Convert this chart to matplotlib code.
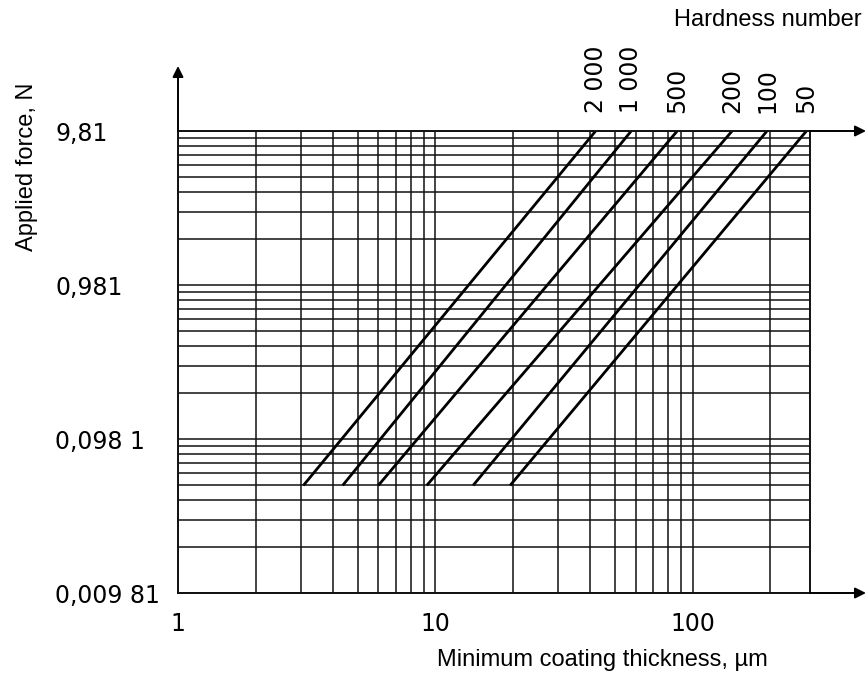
import numpy as np
import matplotlib
matplotlib.use("Agg")
import matplotlib.pyplot as plt

# -- data
hardness = ["2 000", "1 000", "500", "200", "100", "50"]
x_top = [41.9, 57.6, 86.9, 142.0, 194.0, 276.0]      # thickness at F = 9,81 N
x_bottom = [3.07, 4.36, 6.0, 9.25, 14.0, 19.5]       # thickness at F = 0,049 N
f_top = 9.81
f_bottom = 0.049

y_ticks = [0.00981, 0.0981, 0.981, 9.81]
y_ticklabels = ["0,009 81", "0,098 1", "0,981", "9,81"]
x_ticks = [1, 10, 100]
x_ticklabels = ["1", "10", "100"]

ink = "#111111"
num_font = ["DejaVu Sans"]
lbl_font = ["Liberation Sans", "DejaVu Sans"]

fig = plt.figure(figsize=(8.68, 6.75), dpi=100)
ax = fig.add_axes([178 / 868, 1 - 593 / 675, 632 / 868, 462 / 675])

ax.set_xscale("log")
ax.set_yscale("log")
ax.set_xlim(1, 285)
ax.set_ylim(y_ticks[0], y_ticks[-1])

# -- grid
ax.set_xticks(x_ticks)
ax.set_xticklabels(x_ticklabels, fontsize=17, family=num_font)
ax.set_xticks([k * 10 ** n for n in range(3) for k in range(2, 10) if k * 10 ** n < 285], minor=True)
ax.set_yticks(y_ticks)
ax.set_yticklabels(y_ticklabels, fontsize=17, family=num_font)
ax.set_yticks([y_ticks[0] * k * 10 ** n for n in range(3) for k in range(2, 10)], minor=True)
ax.yaxis.set_minor_formatter(matplotlib.ticker.NullFormatter())
ax.xaxis.set_minor_formatter(matplotlib.ticker.NullFormatter())
ax.tick_params(which="both", length=0)
ax.tick_params(axis="x", pad=14)
ax.tick_params(axis="y", pad=88.5)
for t in ax.get_yticklabels():
    t.set_horizontalalignment("left")
ax.grid(True, which="both", color=ink, linewidth=1.1)

for s in ax.spines.values():
    s.set_color(ink)
    s.set_linewidth(1.4)

# -- hardness lines
for lab, xt, xb in zip(hardness, x_top, x_bottom):
    ax.plot([xb, xt], [f_bottom, f_top], color="black", linewidth=2.0, solid_capstyle="butt")
    ax.annotate(lab, xy=(xt, f_top), xytext=(0, 13), textcoords="offset points",
                rotation=90, ha="center", va="bottom", fontsize=17, family=num_font,
                annotation_clip=False)

# -- arrows
arr = dict(arrowstyle="-|>", color="black", lw=1.4, mutation_scale=16, shrinkA=0, shrinkB=0)
ax.annotate("", xy=(1.0886, 1), xytext=(1, 1), xycoords="axes fraction", arrowprops=arr)
ax.annotate("", xy=(1.0886, 0), xytext=(1, 0), xycoords="axes fraction", arrowprops=arr)
ax.annotate("", xy=(0, 1.1407), xytext=(0, 1), xycoords="axes fraction", arrowprops=arr)

# -- labels
fig.text(27 / 868, 1 - 167 / 675, "Applied force, N", rotation=90, ha="center", va="center",
         fontsize=17, family=lbl_font)
fig.text(862 / 868, 1 - 20 / 675, "Hardness number", ha="right", va="center",
         fontsize=17, family=lbl_font)
fig.text(602 / 868, 1 - 660 / 675, "Minimum coating thickness, \u00b5m", ha="center", va="center",
         fontsize=17, family=lbl_font)

fig.savefig("out.png", dpi=100)
